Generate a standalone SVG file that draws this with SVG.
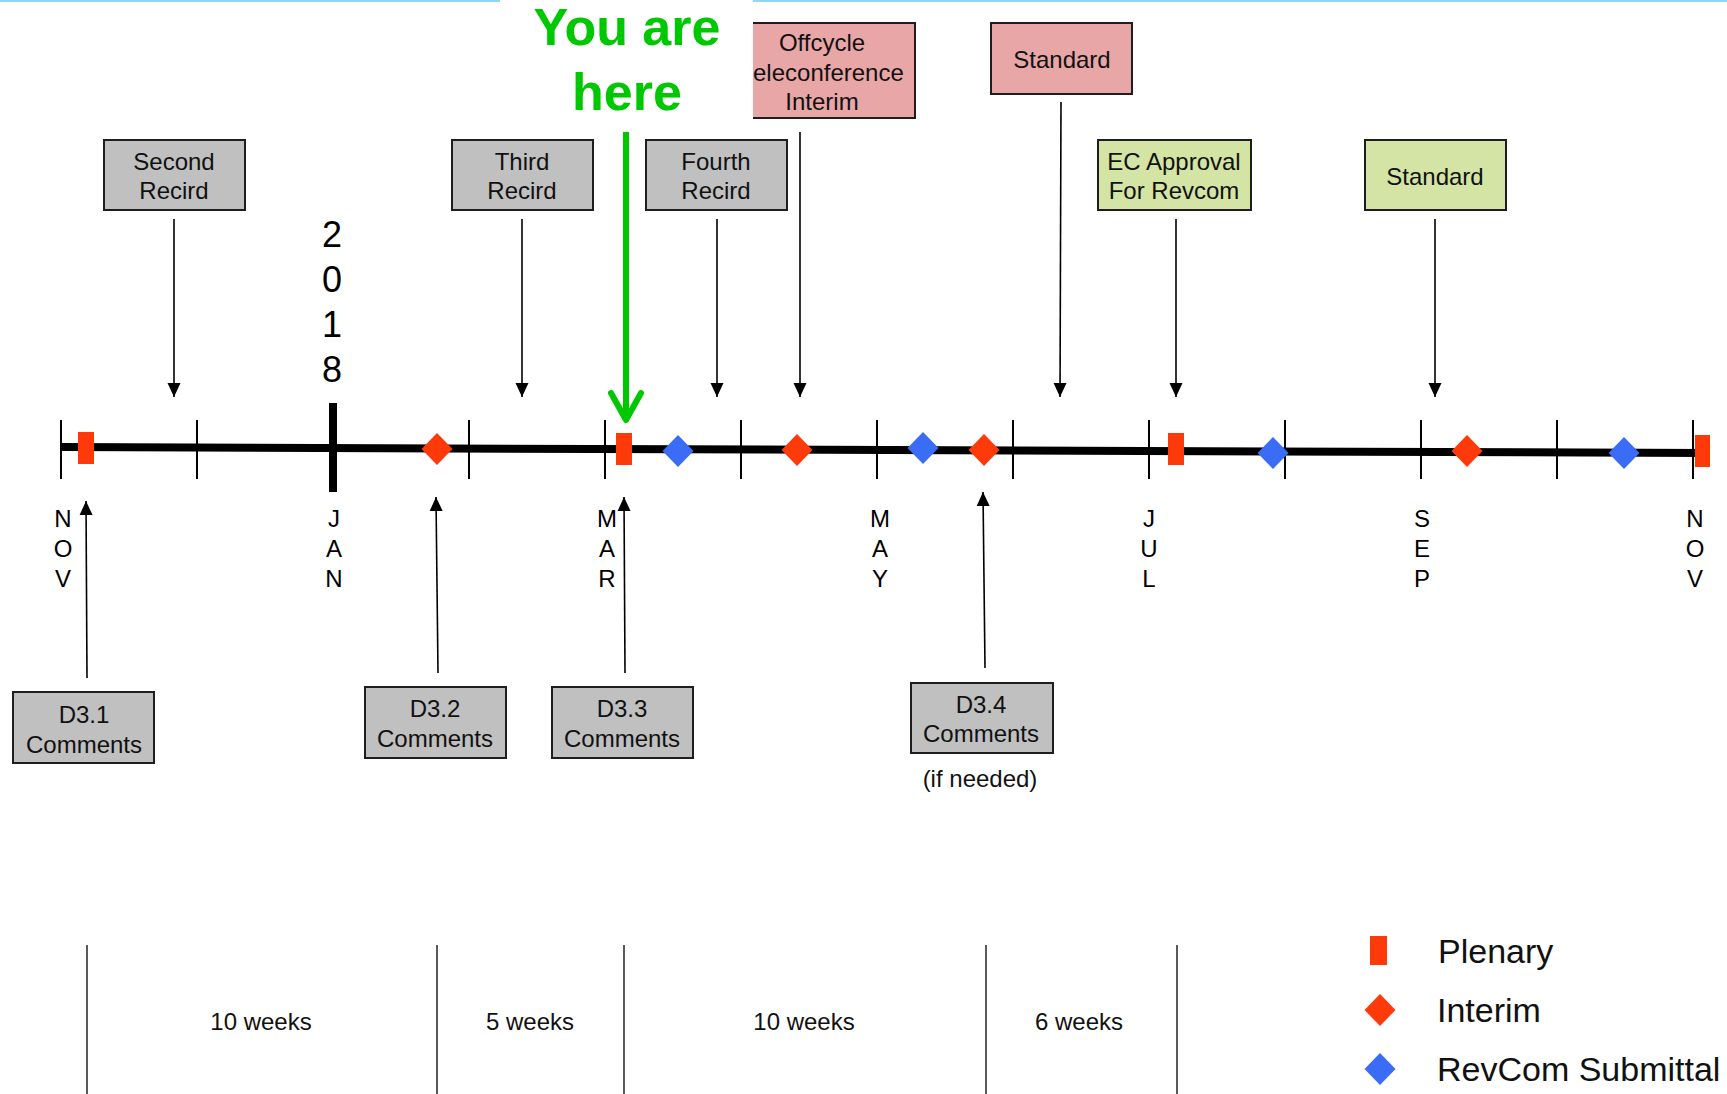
<svg xmlns="http://www.w3.org/2000/svg" width="1727" height="1094" viewBox="0 0 1727 1094">
<style>
text{font-family:"Liberation Sans",Arial,sans-serif;fill:#111}
.box text,.t24{font-size:24px;text-anchor:middle}
.gray{fill:#c0c0c0;stroke:#1e1e1e;stroke-width:2}
.pink{fill:#e8a6a6;stroke:#1e1e1e;stroke-width:2}
.green{fill:#d3e4a4;stroke:#1e1e1e;stroke-width:2}
.arr{stroke:#000;stroke-width:1.6;fill:none;marker-end:url(#ah)}
.tick{stroke:#000;stroke-width:2}
.mon{font-size:24px;text-anchor:middle;fill:#000}
.yr{font-size:36px;text-anchor:middle;fill:#000}
.div{stroke:#000;stroke-width:1.3}
.leg{font-size:34px;fill:#111}
.ple{fill:#ff3a0a}
.int{fill:#ff3a0a}
.rev{fill:#3b6cf6}
</style>
<defs>
<marker id="ah" markerUnits="userSpaceOnUse" markerWidth="14" markerHeight="15" refX="14" refY="6.5" orient="auto" viewBox="0 0 14 13">
<path d="M0,0 L14,6.5 L0,13 Z" fill="#000"/>
</marker>
<path id="dia" d="M0,-16 L15.5,0 L0,16 L-15.5,0 Z"/>
</defs>
<rect width="1727" height="1094" fill="#fff"/>
<g id="topline">
<rect x="0" y="0" width="500" height="2" fill="#8fd6f0"/>
<rect x="753" y="0" width="974" height="2" fill="#8fd6f0"/>
</g>

<g id="timeline">
<line x1="61" y1="447" x2="1705" y2="453" stroke="#000" stroke-width="8"/>
<g class="ticks">
<line class="tick" x1="61" y1="420" x2="61" y2="479"/>
<line class="tick" x1="197" y1="420" x2="197" y2="479"/>
<line x1="333" y1="403" x2="333" y2="492" stroke="#000" stroke-width="8"/>
<line class="tick" x1="469" y1="420" x2="469" y2="479"/>
<line class="tick" x1="605" y1="420" x2="605" y2="479"/>
<line class="tick" x1="741" y1="420" x2="741" y2="479"/>
<line class="tick" x1="877" y1="420" x2="877" y2="479"/>
<line class="tick" x1="1013" y1="420" x2="1013" y2="479"/>
<line class="tick" x1="1149" y1="420" x2="1149" y2="479"/>
<line class="tick" x1="1285" y1="420" x2="1285" y2="479"/>
<line class="tick" x1="1421" y1="420" x2="1421" y2="479"/>
<line class="tick" x1="1557" y1="420" x2="1557" y2="479"/>
<line class="tick" x1="1693" y1="420" x2="1693" y2="479"/>
</g>
</g>

<g id="year">
<text class="yr" x="332" y="247">2</text>
<text class="yr" x="332" y="292">0</text>
<text class="yr" x="332" y="337">1</text>
<text class="yr" x="332" y="382">8</text>
</g>

<g id="months">
<text class="mon" x="63" y="527">N</text><text class="mon" x="63" y="557">O</text><text class="mon" x="63" y="587">V</text>
<text class="mon" x="334" y="527">J</text><text class="mon" x="334" y="557">A</text><text class="mon" x="334" y="587">N</text>
<text class="mon" x="607" y="527">M</text><text class="mon" x="607" y="557">A</text><text class="mon" x="607" y="587">R</text>
<text class="mon" x="880" y="527">M</text><text class="mon" x="880" y="557">A</text><text class="mon" x="880" y="587">Y</text>
<text class="mon" x="1149" y="527">J</text><text class="mon" x="1149" y="557">U</text><text class="mon" x="1149" y="587">L</text>
<text class="mon" x="1422" y="527">S</text><text class="mon" x="1422" y="557">E</text><text class="mon" x="1422" y="587">P</text>
<text class="mon" x="1695" y="527">N</text><text class="mon" x="1695" y="557">O</text><text class="mon" x="1695" y="587">V</text>
</g>

<g id="connectors">
<line class="arr" x1="174" y1="219" x2="174" y2="397"/>
<line class="arr" x1="522" y1="219" x2="522" y2="397"/>
<line class="arr" x1="717" y1="219" x2="717" y2="397"/>
<line class="arr" x1="800" y1="132" x2="800" y2="397"/>
<line class="arr" x1="1061" y1="102" x2="1060" y2="397"/>
<line class="arr" x1="1176" y1="219" x2="1176" y2="397"/>
<line class="arr" x1="1435" y1="219" x2="1435" y2="397"/>
<line class="arr" x1="87" y1="678" x2="86" y2="501"/>
<line class="arr" x1="438" y1="673" x2="436" y2="497"/>
<line class="arr" x1="625" y1="673" x2="624" y2="497"/>
<line class="arr" x1="985" y1="668" x2="983" y2="492"/>
</g>

<g id="markers">
<rect class="ple" x="78" y="432" width="16" height="32"/>
<rect class="ple" x="616" y="433" width="16" height="32"/>
<rect class="ple" x="1168" y="433" width="16" height="32"/>
<rect class="ple" x="1695" y="435" width="15" height="32"/>
<use href="#dia" class="int" x="437" y="449"/>
<use href="#dia" class="int" x="797" y="450"/>
<use href="#dia" class="int" x="984" y="450"/>
<use href="#dia" class="int" x="1467" y="451"/>
<use href="#dia" class="rev" x="678" y="451"/>
<use href="#dia" class="rev" x="923" y="448"/>
<use href="#dia" class="rev" x="1273" y="453"/>
<use href="#dia" class="rev" x="1624" y="453"/>
</g>

<g id="you-are-here">
<text x="627" y="45" font-size="52" font-weight="bold" text-anchor="middle" style="fill:#00c800">You are</text>
<text x="627" y="110" font-size="52" font-weight="bold" text-anchor="middle" style="fill:#00c800">here</text>
<line x1="626" y1="132" x2="626" y2="418" stroke="#00c800" stroke-width="6"/>
<polyline points="611,393 626,420 641,393" fill="none" stroke="#00c800" stroke-width="6" stroke-linecap="round" stroke-linejoin="round"/>
</g>

<g id="second-recird" class="box">
<rect class="gray" x="104" y="140" width="141" height="70"/>
<text x="174" y="170">Second</text><text x="174" y="199">Recird</text>
</g>
<g id="third-recird" class="box">
<rect class="gray" x="452" y="140" width="141" height="70"/>
<text x="522" y="170">Third</text><text x="522" y="199">Recird</text>
</g>
<g id="fourth-recird" class="box">
<rect class="gray" x="646" y="140" width="141" height="70"/>
<text x="716" y="170">Fourth</text><text x="716" y="199">Recird</text>
</g>
<g id="offcycle" class="box">
<rect x="753" y="23" width="162" height="95" fill="#e8a6a6"/>
<path d="M753,23 H915 V118 H753" fill="none" stroke="#1e1e1e" stroke-width="2"/>
<text x="822" y="51">Offcycle</text>
<text x="753" y="81" style="text-anchor:start">eleconference</text>
<text x="822" y="110">Interim</text>
</g>
<g id="standard-pink" class="box">
<rect class="pink" x="991" y="23" width="141" height="71"/>
<text x="1062" y="68">Standard</text>
</g>
<g id="ec-approval" class="box">
<rect class="green" x="1098" y="140" width="153" height="70"/>
<text x="1174" y="170">EC Approval</text><text x="1174" y="199">For Revcom</text>
</g>
<g id="standard-green" class="box">
<rect class="green" x="1365" y="140" width="141" height="70"/>
<text x="1435" y="185">Standard</text>
</g>

<g id="d31" class="box">
<rect class="gray" x="13" y="692" width="141" height="71"/>
<text x="84" y="723">D3.1</text><text x="84" y="753">Comments</text>
</g>
<g id="d32" class="box">
<rect class="gray" x="365" y="687" width="141" height="71"/>
<text x="435" y="717">D3.2</text><text x="435" y="747">Comments</text>
</g>
<g id="d33" class="box">
<rect class="gray" x="552" y="687" width="141" height="71"/>
<text x="622" y="717">D3.3</text><text x="622" y="747">Comments</text>
</g>
<g id="d34" class="box">
<rect class="gray" x="911" y="683" width="142" height="70"/>
<text x="981" y="713">D3.4</text><text x="981" y="742">Comments</text>
</g>
<text class="t24" x="980" y="787">(if needed)</text>

<g id="durations">
<line class="div" x1="87" y1="945" x2="87" y2="1094"/>
<line class="div" x1="437" y1="945" x2="437" y2="1094"/>
<line class="div" x1="624" y1="945" x2="624" y2="1094"/>
<line class="div" x1="986" y1="945" x2="986" y2="1094"/>
<line class="div" x1="1177" y1="945" x2="1177" y2="1094"/>
<text class="t24" x="261" y="1030">10 weeks</text>
<text class="t24" x="530" y="1030">5 weeks</text>
<text class="t24" x="804" y="1030">10 weeks</text>
<text class="t24" x="1079" y="1030">6 weeks</text>
</g>

<g id="legend">
<rect class="ple" x="1370" y="936" width="17" height="29"/>
<use href="#dia" class="int" x="1380" y="1010"/>
<use href="#dia" class="rev" x="1380" y="1069"/>
<text class="leg" x="1438" y="963">Plenary</text>
<text class="leg" x="1437" y="1022">Interim</text>
<text class="leg" x="1437" y="1081">RevCom Submittal</text>
</g>
</svg>
